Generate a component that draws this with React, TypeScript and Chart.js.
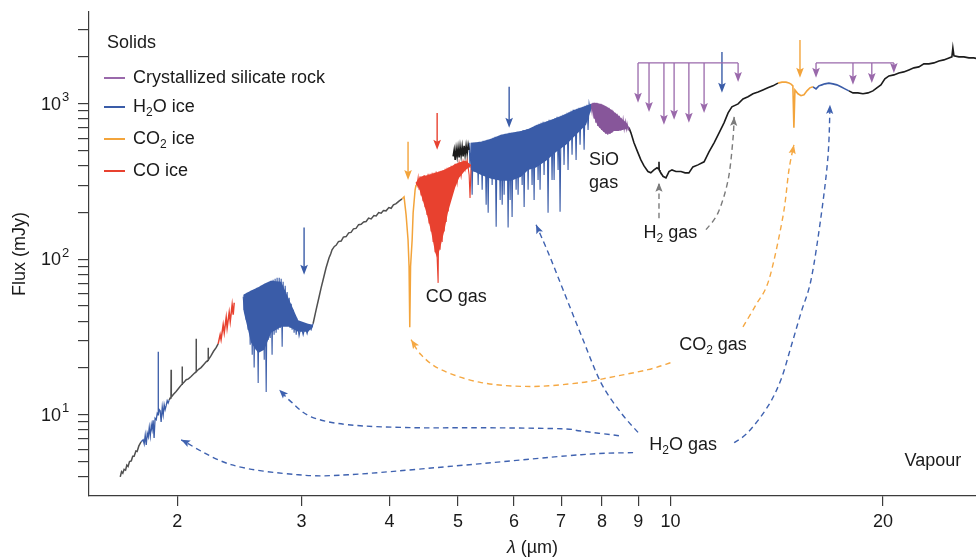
import React, { useEffect, useRef } from "react";
import { Chart, registerables } from "chart.js";

Chart.register(...registerables);

const FONT = '"Liberation Sans", Arial, Helvetica, sans-serif';
const GRAY = "#505050";
const BLACK = "#1c1c1c";
const BLUE = "#3a5ca8";
const RED = "#e8412f";
const ORANGE = "#f3a43b";
const PURPLE = "#87569a";
const PURPLE_ARROW = "#9a69ab";
const DASH_GRAY = "#7b7b7b";
const DASH_BLUE = "#3f62b0";
const DASH_ORANGE = "#f5a843";
const AXIS = "#3c3c3c";
const TEXT = "#1a1a1a";

// ---------- spectrum (wavelength in µm, flux in mJy) ----------
const grayNir1 = [
  [1.661, 3.98], [1.668, 4.3], [1.675, 4.2], [1.682, 4.45], [1.69, 4.4], [1.697, 4.75], [1.704, 4.65],
  [1.712, 5.0], [1.722, 5.05], [1.73, 5.4], [1.738, 5.4], [1.748, 5.85], [1.755, 5.8], [1.765, 6.3], [1.778, 6.7],
];
const blueNir1 = [
  [1.778, 6.7], [1.79, 6.9], [1.796, 6.5], [1.802, 7.4], [1.808, 6.4], [1.814, 7.6], [1.82, 7.2], [1.826, 8.3],
  [1.832, 7.3], [1.838, 8.6], [1.843, 8.0], [1.849, 9.2], [1.855, 7.1], [1.861, 9.5], [1.868, 9.3], [1.874, 10.2],
  [1.879, 10.0], [1.88, 25.4], [1.881, 10.0], [1.886, 10.8], [1.892, 10.6], [1.898, 9.0], [1.905, 11.2],
  [1.911, 10.0], [1.917, 11.6], [1.923, 10.8], [1.929, 11.4], [1.936, 12.3], [1.942, 11.9], [1.948, 12.4],
];
const grayNir2 = [
  [1.948, 12.4], [1.955, 12.8], [1.96, 13.0], [1.961, 19.5], [1.962, 13.0], [1.975, 13.5], [1.993, 14.1],
  [2.01, 14.8], [2.026, 15.5], [2.032, 15.7], [2.033, 20.4], [2.034, 15.8], [2.045, 16.2], [2.06, 16.8],
  [2.075, 17.0], [2.093, 17.6], [2.11, 18.3], [2.127, 18.9], [2.128, 30.8], [2.129, 18.9], [2.145, 19.6],
  [2.162, 20.1], [2.18, 21.0], [2.198, 21.9], [2.212, 22.4], [2.213, 27.0], [2.214, 22.5], [2.234, 24.0],
  [2.252, 25.6], [2.271, 27.0], [2.286, 28.6],
];
const redNir = [
  [2.286, 28.6], [2.301, 32.7], [2.308, 30.4], [2.324, 37.9], [2.332, 33.7], [2.347, 42.2], [2.354, 36.2],
  [2.37, 45.5], [2.378, 39.7], [2.393, 51.0], [2.401, 44.0], [2.409, 52.5],
];
const blueNir2 = [
  [2.481, 57.4], [2.489, 47.3], [2.497, 59.1], [2.505, 40.8], [2.513, 60.8], [2.521, 35.2], [2.529, 61.6],
  [2.538, 28.2], [2.546, 62.8], [2.555, 24.3], [2.563, 61.6], [2.571, 20.1], [2.58, 63.7], [2.588, 26.2],
  [2.596, 65.6], [2.605, 16.0], [2.613, 64.6], [2.622, 28.2], [2.63, 67.5], [2.639, 30.4], [2.648, 66.5],
  [2.657, 22.6], [2.665, 69.6], [2.674, 14.0], [2.683, 70.6], [2.692, 30.4], [2.7, 71.7], [2.709, 31.2],
  [2.717, 72.7], [2.726, 24.3], [2.735, 73.8], [2.744, 32.7], [2.753, 75.0], [2.762, 33.7], [2.771, 76.2],
  [2.78, 35.2], [2.79, 76.2], [2.799, 36.2], [2.808, 75.0], [2.817, 27.4], [2.826, 71.7], [2.835, 39.7],
  [2.845, 67.5], [2.854, 40.8], [2.863, 61.6], [2.873, 37.9], [2.882, 56.5], [2.891, 36.2], [2.901, 51.7],
  [2.91, 35.2], [2.92, 47.3], [2.929, 33.7], [2.939, 43.3], [2.949, 32.7], [2.958, 39.7], [2.977, 32.2],
  [2.997, 37.3], [3.017, 32.7], [3.036, 36.7], [3.056, 33.2], [3.076, 37.3], [3.096, 35.2], [3.116, 38.5],
];
const grayNir3 = [
  [3.116, 38.5], [3.147, 47.3], [3.178, 57.4], [3.2, 66], [3.22, 73.8], [3.251, 88.2], [3.283, 102.3],
  [3.3, 108], [3.315, 115], [3.34, 121], [3.359, 123], [3.385, 130], [3.415, 131], [3.44, 139], [3.471, 140],
  [3.5, 148], [3.527, 149], [3.555, 157], [3.585, 158], [3.615, 167], [3.645, 168], [3.675, 174], [3.705, 175],
  [3.735, 184], [3.766, 182], [3.8, 191], [3.828, 190], [3.86, 200], [3.891, 198], [3.92, 206], [3.954, 205],
  [3.99, 215], [4.02, 213], [4.05, 224], [4.086, 228], [4.12, 236], [4.166, 245],
];
const orangeCo2 = [
  [4.166, 245], [4.193, 252], [4.221, 193], [4.248, 133], [4.262, 90], [4.272, 36.5], [4.283, 90],
  [4.305, 133], [4.319, 199], [4.347, 280], [4.361, 301],
];
const redCo = [
  [4.361, 313], [4.375, 298], [4.39, 334], [4.404, 280], [4.418, 342], [4.433, 257], [4.447, 342], [4.461, 236],
  [4.477, 349], [4.491, 216], [4.506, 342], [4.52, 193], [4.535, 355], [4.55, 170], [4.565, 355], [4.58, 151],
  [4.595, 360], [4.61, 129], [4.625, 360], [4.64, 111], [4.656, 367], [4.671, 102], [4.686, 70.5], [4.701, 367],
  [4.716, 115], [4.731, 371], [4.748, 129], [4.763, 376], [4.779, 151], [4.794, 382], [4.81, 174], [4.825, 388],
  [4.842, 203], [4.857, 393], [4.873, 236], [4.889, 399], [4.921, 273], [4.954, 411], [4.986, 313], [5.018, 420],
  [5.051, 342], [5.084, 428], [5.117, 376], [5.151, 436], [5.185, 349], [5.2, 248], [5.218, 405],
];
const blackMir1 = [
  [4.921, 460], [4.938, 506], [4.954, 436], [4.97, 514], [4.986, 459], [5.001, 522], [5.018, 453], [5.034, 530],
  [5.051, 465], [5.068, 530], [5.084, 459], [5.101, 538], [5.117, 470], [5.134, 538], [5.151, 477], [5.169, 545],
  [5.185, 506],
];
const blueMir = [
  [5.185, 562], [5.2, 388], [5.218, 562], [5.236, 260], [5.253, 562], [5.27, 365], [5.287, 562], [5.305, 365],
  [5.322, 562], [5.34, 301], [5.357, 570], [5.375, 376], [5.392, 570], [5.41, 280], [5.427, 578], [5.445, 388],
  [5.463, 578], [5.481, 224], [5.499, 587], [5.517, 199], [5.534, 587], [5.553, 393], [5.571, 596], [5.589, 301],
  [5.607, 605], [5.626, 417], [5.644, 614], [5.663, 162], [5.681, 614], [5.7, 428], [5.718, 623], [5.737, 241],
  [5.755, 632], [5.775, 224], [5.794, 632], [5.812, 260], [5.831, 642], [5.85, 430], [5.869, 642], [5.888, 160],
  [5.908, 651], [5.927, 241], [5.946, 651], [5.965, 187], [5.985, 651], [6.005, 436], [6.025, 651], [6.044, 280],
  [6.064, 661], [6.083, 260], [6.103, 661], [6.124, 453], [6.144, 670], [6.164, 301], [6.184, 680], [6.204, 217],
  [6.224, 680], [6.245, 470], [6.265, 690], [6.285, 280], [6.306, 690], [6.326, 484], [6.347, 700], [6.367, 301],
  [6.388, 711], [6.409, 241], [6.43, 722], [6.451, 506], [6.472, 733], [6.493, 324], [6.514, 744], [6.535, 280],
  [6.557, 755], [6.578, 529], [6.6, 766], [6.621, 349], [6.643, 766], [6.665, 545], [6.687, 777], [6.708, 199],
  [6.73, 789], [6.752, 570], [6.774, 789], [6.796, 324], [6.819, 800], [6.841, 324], [6.863, 812], [6.885, 605],
  [6.908, 825], [6.931, 376], [6.954, 825], [6.976, 202], [6.999, 837], [7.02, 642], [7.044, 850], [7.067, 405],
  [7.091, 862], [7.114, 661], [7.137, 875], [7.16, 376], [7.183, 888], [7.207, 680], [7.231, 902], [7.254, 470],
  [7.278, 915], [7.3, 722], [7.325, 915], [7.35, 436], [7.374, 929], [7.398, 766], [7.422, 943], [7.446, 545],
  [7.47, 943], [7.495, 812], [7.52, 957], [7.545, 506], [7.569, 971], [7.594, 850], [7.618, 986], [7.643, 680],
  [7.669, 1000], [7.694, 915], [7.718, 1000],
];
const purpleSil = [
  [7.718, 1000], [7.743, 888], [7.768, 1015], [7.793, 813], [7.817, 1015], [7.84, 755], [7.866, 1015],
  [7.89, 722], [7.916, 1000], [7.942, 701], [7.97, 1000], [7.99, 680], [8.02, 986], [8.05, 660], [8.07, 971],
  [8.1, 642], [8.12, 957], [8.15, 632], [8.18, 943], [8.21, 642], [8.24, 915], [8.26, 651], [8.29, 902],
  [8.32, 670], [8.35, 875], [8.38, 680], [8.4, 862], [8.43, 670], [8.46, 837], [8.49, 680], [8.51, 812],
  [8.54, 680], [8.57, 789], [8.6, 690], [8.63, 766], [8.66, 690], [8.68, 744], [8.71, 680], [8.735, 711],
];
const blackMir2 = [
  [8.735, 701], [8.79, 651], [8.878, 562], [8.996, 484], [9.08, 436], [9.174, 399], [9.293, 367], [9.38, 360],
  [9.477, 376], [9.571, 388], [9.63, 380], [9.633, 424], [9.64, 375], [9.664, 367], [9.76, 342], [9.855, 334],
  [9.953, 367], [10.05, 376], [10.18, 367], [10.35, 367], [10.49, 360], [10.62, 360], [10.76, 393],
  [10.94, 405], [11.16, 424], [11.34, 491], [11.53, 562], [11.72, 651], [11.91, 755], [12.07, 875],
  [12.22, 957], [12.47, 1000], [12.67, 1076], [12.88, 1111], [13.09, 1161], [13.31, 1194], [13.52, 1230],
  [13.74, 1268], [13.97, 1306], [14.2, 1360],
];
const orangeMir = [
  [14.2, 1360], [14.39, 1380], [14.58, 1380], [14.72, 1360], [14.82, 1340], [14.91, 1306], [14.96, 701],
  [15.01, 1230], [15.16, 1161], [15.31, 1128], [15.46, 1144], [15.61, 1212], [15.76, 1268], [15.92, 1287],
];
const blueMir2 = [
  [15.92, 1287], [16.08, 1249], [16.23, 1306], [16.39, 1325], [16.55, 1345], [16.77, 1360], [16.99, 1345],
  [17.21, 1325], [17.44, 1287], [17.67, 1249], [17.9, 1212],
];
const blackMir3 = [
  [17.9, 1212], [18.14, 1177], [18.43, 1177], [18.74, 1161], [19.05, 1177], [19.36, 1212], [19.61, 1268],
  [19.87, 1325], [20.13, 1447], [20.4, 1513], [20.73, 1536], [21.07, 1582], [21.41, 1606], [21.77, 1654],
  [22.13, 1705], [22.49, 1730], [22.86, 1808], [23.24, 1808], [23.62, 1835], [24.01, 1890], [24.4, 1918],
  [24.81, 1976], [25.05, 2006], [25.13, 2291], [25.22, 2036], [25.63, 2006], [26.05, 2006], [26.48, 1976],
  [26.91, 1976], [27.35, 1947],
];

// dense absorption bands: upper envelope and lower (dense) edge on shared wavelengths
const blueNirBandX = [2.481, 2.546, 2.605, 2.657, 2.717, 2.808, 2.882, 2.968, 3.066, 3.116];
const blueNirBandTop = [59.1, 63, 66, 69.5, 72.7, 71.7, 55, 40.5, 38.5, 37.9];
const blueNirBandLow = [47.3, 29.1, 25.0, 26.2, 33.7, 36.8, 36.8, 34.2, 34.2, 36.8];
const redCoBandX = [4.361, 4.404, 4.461, 4.52, 4.58, 4.64, 4.671, 4.716, 4.779, 4.842, 4.889, 4.954, 5.018, 5.117, 5.218];
const redCoBandTop = [313, 335, 343, 347, 353, 360, 363, 368, 375, 387, 395, 410, 420, 432, 405];
const redCoBandLow = [305, 285, 236, 193, 151, 111, 102, 118, 151, 203, 236, 290, 335, 372, 400];
const blueMirBandX = [5.218, 5.392, 5.571, 5.755, 5.946, 6.144, 6.285, 6.451, 6.665, 6.885, 7.114, 7.35, 7.594, 7.718];
const blueMirBandTop = [562, 570, 596, 632, 651, 670, 690, 728, 766, 812, 862, 925, 971, 1000];
const blueMirBandLow = [376, 349, 330, 320, 320, 340, 376, 390, 430, 491, 545, 632, 733, 915];
const purpleBandX = [7.718, 7.793, 7.89, 7.99, 8.1, 8.21, 8.32, 8.43, 8.54, 8.66, 8.735];
const purpleBandTop = [1000, 1015, 1008, 993, 965, 930, 885, 845, 800, 755, 711];
const purpleBandLow = [980, 813, 722, 680, 642, 642, 670, 670, 680, 690, 705];

// ---------- axes ----------
const xTickValues = [2, 3, 4, 5, 6, 7, 8, 9, 10, 20];
const yTickValues = [4, 5, 6, 7, 8, 9, 10, 20, 30, 40, 50, 60, 70, 80, 90, 100, 200, 300, 400, 500, 600, 700, 800, 900, 1000, 2000, 3000];
const yLabelTicks = [10, 100, 1000];
const yLabelExponents = ["1", "2", "3"];

// ---------- annotations (data coordinates) ----------
const iceArrowX = [3.026, 4.248, 4.671, 5.908, 11.83, 15.26];
const iceArrowFrom = [160, 570, 875, 1287, 2159, 2579];
const iceArrowTo = [79.5, 324, 506, 701, 1178, 1470];
const iceArrowColors = [BLUE, ORANGE, RED, BLUE, BLUE, ORANGE];

const silicateBarY = 1835;
const silicateTipsA = [[8.996, 1015], [9.325, 888], [9.79, 733], [10.12, 789], [10.62, 755], [11.16, 875], [12.47, 1384]];
const silicateTipsB = [[16.08, 1470], [18.14, 1325], [19.29, 1360], [20.73, 1582]];

const h2Straight = [[9.633, 184], [9.633, 311]];
const h2Curve = [[11.23, 155], [11.68, 199], [12.07, 324], [12.26, 587], [12.31, 825]];
const co2Right = [[12.67, 36.8], [13.22, 51], [13.79, 73.8], [14.43, 187], [14.72, 376], [14.96, 545]];
const co2Left = [[10.0, 21.6], [9.293, 19.5], [8.318, 17.6], [7.47, 16.1], [6.347, 15.2], [5.392, 16.1], [4.731, 19.5], [4.433, 24.3], [4.29, 30.4]];
const h2oToMir = [[8.996, 7.7], [8.51, 10.3], [7.97, 16.1], [7.47, 32.7], [7.044, 63.7], [6.73, 107], [6.451, 167]];
const h2oTo3um = [[8.453, 7.33], [7.47, 7.85], [7.0, 8.12], [5.392, 8.25], [4.333, 8.25], [3.494, 8.62], [3.096, 9.7], [2.901, 12.1], [2.79, 14.5]];
const h2oTo2um = [[8.852, 5.7], [7.47, 5.53], [4.842, 4.64], [3.494, 4.11], [2.968, 4.11], [2.385, 4.77], [2.026, 6.9]];
const h2oTo17um = [[12.31, 6.61], [12.88, 7.7], [13.74, 11.3], [14.34, 16.8], [14.82, 27.4], [15.31, 45.3], [15.82, 73.8], [16.34, 187], [16.72, 459], [16.83, 986]];

const dashedPaths = [
  { pts: h2Straight, color: DASH_GRAY },
  { pts: h2Curve, color: DASH_GRAY },
  { pts: co2Right, color: DASH_ORANGE },
  { pts: co2Left, color: DASH_ORANGE },
  { pts: h2oToMir, color: DASH_BLUE },
  { pts: h2oTo3um, color: DASH_BLUE },
  { pts: h2oTo2um, color: DASH_BLUE },
  { pts: h2oTo17um, color: DASH_BLUE },
];

type Part = [string, boolean?];
const gasLabels: { parts: Part[]; x: number; y: number; align: "left" | "center" }[] = [
  { parts: [["CO gas"]], x: 4.97, y: 57.4, align: "center" },
  { parts: [["SiO"]], x: 7.669, y: 436, align: "left" },
  { parts: [["gas"]], x: 7.669, y: 310, align: "left" },
  { parts: [["H"], ["2", true], [" gas"]], x: 10.0, y: 148, align: "center" },
  { parts: [["CO"], ["2", true], [" gas"]], x: 11.49, y: 28.2, align: "center" },
  { parts: [["H"], ["2", true], ["O gas"]], x: 10.42, y: 6.41, align: "center" },
  { parts: [["Vapour"]], x: 23.54, y: 5.0, align: "center" },
];

const legendTitle = "Solids";
const legendItems: { parts: Part[]; color: string }[] = [
  { parts: [["Crystallized silicate rock"]], color: PURPLE_ARROW },
  { parts: [["H"], ["2", true], ["O ice"]], color: BLUE },
  { parts: [["CO"], ["2", true], [" ice"]], color: ORANGE },
  { parts: [["CO ice"]], color: RED },
];

const bands = [
  { x: blueNirBandX, top: blueNirBandTop, low: blueNirBandLow, color: BLUE },
  { x: redCoBandX, top: redCoBandTop, low: redCoBandLow, color: RED },
  { x: blueMirBandX, top: blueMirBandTop, low: blueMirBandLow, color: BLUE },
  { x: purpleBandX, top: purpleBandTop, low: purpleBandLow, color: PURPLE },
];

const segments = [
  { data: grayNir1, color: GRAY, width: 1.5 },
  { data: blueNir1, color: BLUE, width: 1.3 },
  { data: grayNir2, color: GRAY, width: 1.5 },
  { data: redNir, color: RED, width: 1.5 },
  { data: blueNir2, color: BLUE, width: 1.1 },
  { data: grayNir3, color: GRAY, width: 1.5 },
  { data: orangeCo2, color: ORANGE, width: 1.5 },
  { data: blackMir1, color: BLACK, width: 1.6 },
  { data: redCo, color: RED, width: 1.1 },
  { data: blueMir, color: BLUE, width: 1.1 },
  { data: purpleSil, color: PURPLE, width: 1.2 },
  { data: blackMir2, color: BLACK, width: 1.6 },
  { data: orangeMir, color: ORANGE, width: 1.6 },
  { data: blueMir2, color: BLUE, width: 1.6 },
  { data: blackMir3, color: BLACK, width: 1.6 },
];

function drawRich(ctx: CanvasRenderingContext2D, parts: Part[], x: number, y: number, align: "left" | "center", size = 18) {
  const subSize = Math.round(size * 0.68);
  let w = 0;
  for (const [t, sub] of parts) {
    ctx.font = `${sub ? subSize : size}px ${FONT}`;
    w += ctx.measureText(t).width;
  }
  let cx = align === "center" ? x - w / 2 : x;
  ctx.textAlign = "left";
  ctx.textBaseline = "middle";
  for (const [t, sub] of parts) {
    ctx.font = `${sub ? subSize : size}px ${FONT}`;
    ctx.fillText(t, cx, sub ? y + size * 0.32 : y);
    cx += ctx.measureText(t).width;
  }
}

function head(ctx: CanvasRenderingContext2D, tx: number, ty: number, ang: number, len: number, hw: number, color: string) {
  ctx.save();
  ctx.fillStyle = color;
  ctx.translate(tx, ty);
  ctx.rotate(ang);
  ctx.beginPath();
  ctx.moveTo(0, 0);
  ctx.lineTo(-len, -hw);
  ctx.lineTo(-len * 0.8, 0);
  ctx.lineTo(-len, hw);
  ctx.closePath();
  ctx.fill();
  ctx.restore();
}

const annotationPlugin = {
  id: "annotations",
  afterDatasetsDraw(chart: any) {
    const { ctx, scales } = chart;
    const X = (v: number) => scales.x.getPixelForValue(v);
    const Y = (v: number) => scales.y.getPixelForValue(v);
    ctx.save();

    iceArrowX.forEach((lx, i) => {
      const x = X(lx), y0 = Y(iceArrowFrom[i]), y1 = Y(iceArrowTo[i]);
      ctx.strokeStyle = iceArrowColors[i];
      ctx.lineWidth = 1.4;
      ctx.beginPath();
      ctx.moveTo(x, y0);
      ctx.lineTo(x, y1 - 5);
      ctx.stroke();
      head(ctx, x, y1, Math.PI / 2, 10, 3.8, iceArrowColors[i]);
    });

    [silicateTipsA, silicateTipsB].forEach((tips) => {
      const yb = Y(silicateBarY);
      ctx.strokeStyle = PURPLE_ARROW;
      ctx.lineWidth = 1.3;
      ctx.beginPath();
      ctx.moveTo(X(tips[0][0]), yb);
      ctx.lineTo(X(tips[tips.length - 1][0]), yb);
      ctx.stroke();
      tips.forEach(([lx, f]) => {
        const x = X(lx), y1 = Y(f);
        ctx.beginPath();
        ctx.moveTo(x, yb);
        ctx.lineTo(x, y1 - 5);
        ctx.stroke();
        head(ctx, x, y1, Math.PI / 2, 10, 3.8, PURPLE_ARROW);
      });
    });

    dashedPaths.forEach(({ pts, color }) => {
      const p = pts.map(([a, b]) => [X(a), Y(b)]);
      ctx.strokeStyle = color;
      ctx.lineWidth = 1.4;
      ctx.setLineDash([5.5, 4]);
      ctx.beginPath();
      ctx.moveTo(p[0][0], p[0][1]);
      let lastC = p[0];
      for (let i = 0; i < p.length - 1; i++) {
        const p0 = p[i - 1] || p[i], p1 = p[i], p2 = p[i + 1], p3 = p[i + 2] || p2;
        const c1 = [p1[0] + (p2[0] - p0[0]) / 6, p1[1] + (p2[1] - p0[1]) / 6];
        const c2 = [p2[0] - (p3[0] - p1[0]) / 6, p2[1] - (p3[1] - p1[1]) / 6];
        ctx.bezierCurveTo(c1[0], c1[1], c2[0], c2[1], p2[0], p2[1]);
        lastC = c2;
      }
      ctx.stroke();
      ctx.setLineDash([]);
      const end = p[p.length - 1];
      let dx = end[0] - lastC[0], dy = end[1] - lastC[1];
      if (Math.hypot(dx, dy) < 0.5) {
        const prev = p[p.length - 2];
        dx = end[0] - prev[0];
        dy = end[1] - prev[1];
      }
      head(ctx, end[0], end[1], Math.atan2(dy, dx), 9, 3.6, color);
    });

    ctx.fillStyle = TEXT;
    gasLabels.forEach((l) => drawRich(ctx, l.parts, X(l.x), Y(l.y), l.align));
    ctx.restore();
  },
  afterDraw(chart: any) {
    const { ctx, chartArea, scales } = chart;
    ctx.save();
    ctx.fillStyle = TEXT;
    yLabelTicks.forEach((v, i) => {
      const y = scales.y.getPixelForValue(v);
      ctx.font = `18px ${FONT}`;
      ctx.textAlign = "right";
      ctx.textBaseline = "middle";
      ctx.fillText("10", 61, y + 1);
      ctx.font = `13px ${FONT}`;
      ctx.textAlign = "left";
      ctx.fillText(yLabelExponents[i], 62, y - 6);
    });
    ctx.font = `18px ${FONT}`;
    ctx.textAlign = "center";
    ctx.textBaseline = "middle";
    ctx.save();
    ctx.translate(20, (chartArea.top + chartArea.bottom) / 2);
    ctx.rotate(-Math.PI / 2);
    ctx.fillText("Flux (mJy)", 0, 0);
    ctx.restore();
    const cx = (chartArea.left + chartArea.right) / 2;
    ctx.font = `italic 18px ${FONT}`;
    const w1 = ctx.measureText("λ").width;
    ctx.font = `18px ${FONT}`;
    const w2 = ctx.measureText(" (µm)").width;
    const sx = cx - (w1 + w2) / 2;
    ctx.textAlign = "left";
    ctx.font = `italic 18px ${FONT}`;
    ctx.fillText("λ", sx, 548);
    ctx.font = `18px ${FONT}`;
    ctx.fillText(" (µm)", sx + w1, 548);
    drawRich(ctx, [[legendTitle]], 107, 43, "left");
    const rows = [78, 107, 139, 171];
    legendItems.forEach((it, i) => {
      ctx.strokeStyle = it.color;
      ctx.lineWidth = 2;
      ctx.beginPath();
      ctx.moveTo(104, rows[i]);
      ctx.lineTo(125, rows[i]);
      ctx.stroke();
      ctx.fillStyle = TEXT;
      drawRich(ctx, it.parts, 133, rows[i], "left");
    });
    ctx.restore();
  },
};

export default function App() {
  const ref = useRef<HTMLCanvasElement | null>(null);
  useEffect(() => {
    document.body.style.margin = "0";
    const canvas = ref.current;
    if (!canvas) return;
    const bandSets: any[] = [];
    bands.forEach((b) => {
      bandSets.push({
        data: b.x.map((x, i) => ({ x, y: b.top[i] })),
        borderWidth: 0,
        borderColor: b.color,
        backgroundColor: b.color,
        pointRadius: 0,
        tension: 0,
        fill: "+1",
      });
      bandSets.push({
        data: b.x.map((x, i) => ({ x, y: b.low[i] })),
        borderWidth: 0,
        borderColor: b.color,
        pointRadius: 0,
        tension: 0,
        fill: false,
      });
    });
    const chart = new Chart(canvas, {
      type: "line",
      data: {
        datasets: [
          ...bandSets,
          ...segments.map((s) => ({
            data: s.data.map(([x, y]) => ({ x, y })),
            borderColor: s.color,
            borderWidth: s.width,
            pointRadius: 0,
            tension: 0,
            fill: false,
          })),
        ],
      },
      options: {
        animation: false,
        responsive: true,
        maintainAspectRatio: false,
        devicePixelRatio: 1,
        events: [],
        layout: { padding: { top: 12, right: 0, left: 0, bottom: 0 } },
        plugins: { legend: { display: false }, tooltip: { enabled: false }, title: { display: false } },
        scales: {
          x: {
            type: "logarithmic",
            min: 1.5,
            max: 27.1,
            afterBuildTicks: (axis: any) => {
              axis.ticks = xTickValues.map((v) => ({ value: v }));
            },
            afterFit: (axis: any) => {
              axis.height = 64;
            },
            ticks: {
              autoSkip: false,
              maxRotation: 0,
              padding: 5,
              color: TEXT,
              font: { family: FONT, size: 18 },
              callback: (v: any) => String(v),
            },
            grid: { display: true, drawOnChartArea: false, drawTicks: true, tickLength: 10, color: AXIS, lineWidth: 1.2 },
            border: { display: true, color: AXIS, width: 1.2 },
          },
          y: {
            type: "logarithmic",
            min: 3,
            max: 3900,
            afterBuildTicks: (axis: any) => {
              axis.ticks = yTickValues.map((v) => ({ value: v }));
            },
            afterFit: (axis: any) => {
              axis.width = 89;
            },
            ticks: {
              autoSkip: false,
              padding: 0,
              font: { family: FONT, size: 1 },
              callback: () => "",
            },
            grid: { display: true, drawOnChartArea: false, drawTicks: true, tickLength: 11, color: AXIS, lineWidth: 1.2 },
            border: { display: true, color: AXIS, width: 1.2 },
          },
        },
      },
      plugins: [annotationPlugin],
    });
    return () => chart.destroy();
  }, []);
  return (
    <div style={{ width: 976, height: 560, position: "relative" }}>
      <canvas ref={ref} />
    </div>
  );
}
